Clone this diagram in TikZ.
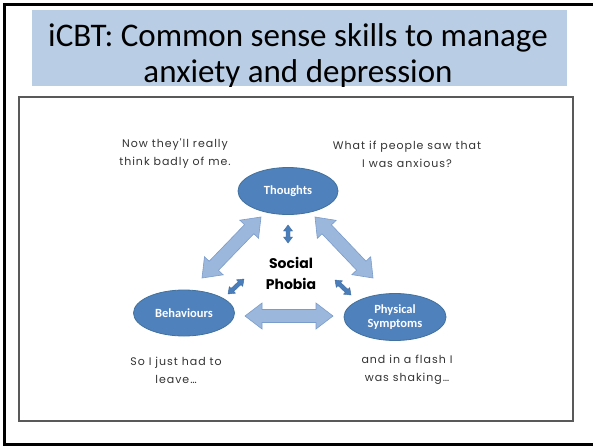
\documentclass[tikz,border=0pt]{standalone}
\usepackage{fontspec}
\setmainfont{Carlito}
\newfontfamily\quotefont[LetterSpace=9]{Poppins}
\newfontfamily\socialfont{Poppins}
\usetikzlibrary{calc,shapes.geometric}
\definecolor{titlebg}{HTML}{B9CDE5}
\definecolor{ellfill}{HTML}{4F81BD}
\definecolor{elledge}{HTML}{41719C}
\definecolor{arrlight}{HTML}{9BB7DC}
\definecolor{arredge}{HTML}{7A9CCB}
\definecolor{arrdark}{HTML}{4A7EBB}
\definecolor{framegray}{HTML}{595959}
\definecolor{quotegray}{HTML}{333333}
\newcommand{\blockarrow}[6]{%
  \draw[#1] (#2)
   -- ($(#2)!#6!(#3)!#5!90:(#3)$)
   -- ($(#2)!#6!(#3)!#4!90:(#3)$)
   -- ($(#3)!#6!(#2)!#4!-90:(#2)$)
   -- ($(#3)!#6!(#2)!#5!-90:(#2)$)
   -- (#3)
   -- ($(#3)!#6!(#2)!#5!90:(#2)$)
   -- ($(#3)!#6!(#2)!#4!90:(#2)$)
   -- ($(#2)!#6!(#3)!#4!-90:(#3)$)
   -- ($(#2)!#6!(#3)!#5!-90:(#3)$)
   -- cycle;}
\tikzset{
  ellnode/.style={ellipse, fill=ellfill, draw=elledge, line width=0.8pt,
    text=white, font=\bfseries\fontsize{12.5}{14}\selectfont, align=center, inner sep=0pt},
  quote/.style={font=\quotefont\fontsize{11}{18}\selectfont, text=quotegray, align=center, inner sep=0pt},
  titletext/.style={font=\fontsize{33}{37}\selectfont, anchor=base, inner sep=0pt},
  bigarr/.style={fill=arrlight, draw=arredge, line width=0.6pt, line join=miter},
  smallarr/.style={fill=arrdark, draw=arrdark!85!black, line width=0.4pt, line join=miter}
}
\begin{document}
\begin{tikzpicture}[x=1pt,y=-1pt]
\useasboundingbox (0,0) rectangle (593,447);
\fill[white] (0,0) rectangle (593,447);
% outer frame (right side out of view)
\draw[black, line width=2.6pt] (600,4.5) -- (4.5,4.5) -- (4.5,444.5) -- (600,444.5);
% title
\fill[titlebg] (32,10) rectangle (567,86);
\begin{scope}
\clip (32,10) rectangle (567,86);
\node[titletext] (title1) at (298,46) {iCBT: Common sense skills to manage};
\node[titletext] (title2) at (298,82) {anxiety and depression};
\end{scope}
% inner frame
\draw[framegray, line width=1.6pt] (19,97) rectangle (573,421);
% ellipses
\node[ellnode, minimum width=100pt, minimum height=47pt] (thoughts) at (288,191) {Thoughts};
\node[ellnode, minimum width=101pt, minimum height=46pt] (behav) at (184,313) {Behaviours};
\node[ellnode, minimum width=102pt, minimum height=47pt] (phys) at (395,317) {Physical\\Symptoms};
% centre text
\node[font=\socialfont\bfseries\fontsize{14}{21}\selectfont, align=center, inner sep=0pt] (social) at (291,273) {Social\\Phobia};
% quotes
\node[quote] (q1) at (175,154) {Now they'll really\\think badly of me.};
\node[quote] (q2) at (407,154) {What if people saw that\\I was anxious?};
\node[quote] (q3) at (176,370) {So I just had to\\leave\dots};
\node[quote] (q4) at (407,370) {and in a flash I\\was shaking\dots};
% arrow end points
\coordinate (la) at (202,278);
\coordinate (lb) at (261,217);
\coordinate (ra) at (315,217);
\coordinate (rb) at (373,278);
\coordinate (ha) at (245,316);
\coordinate (hb) at (333,316);
\coordinate (va) at (288,225);
\coordinate (vb) at (288,243);
\coordinate (sla) at (228,294);
\coordinate (slb) at (244,279);
\coordinate (sra) at (335,280);
\coordinate (srb) at (351,295);
% big block arrows
\blockarrow{bigarr}{la}{lb}{6.5pt}{13pt}{17pt}
\blockarrow{bigarr}{ra}{rb}{6.5pt}{13pt}{17pt}
\blockarrow{bigarr}{ha}{hb}{6.5pt}{13pt}{17pt}
% small arrows
\blockarrow{smallarr}{va}{vb}{2pt}{4.5pt}{6pt}
\blockarrow{smallarr}{sla}{slb}{2pt}{4.5pt}{6pt}
\blockarrow{smallarr}{sra}{srb}{2pt}{4.5pt}{6pt}
\end{tikzpicture}
\end{document}
